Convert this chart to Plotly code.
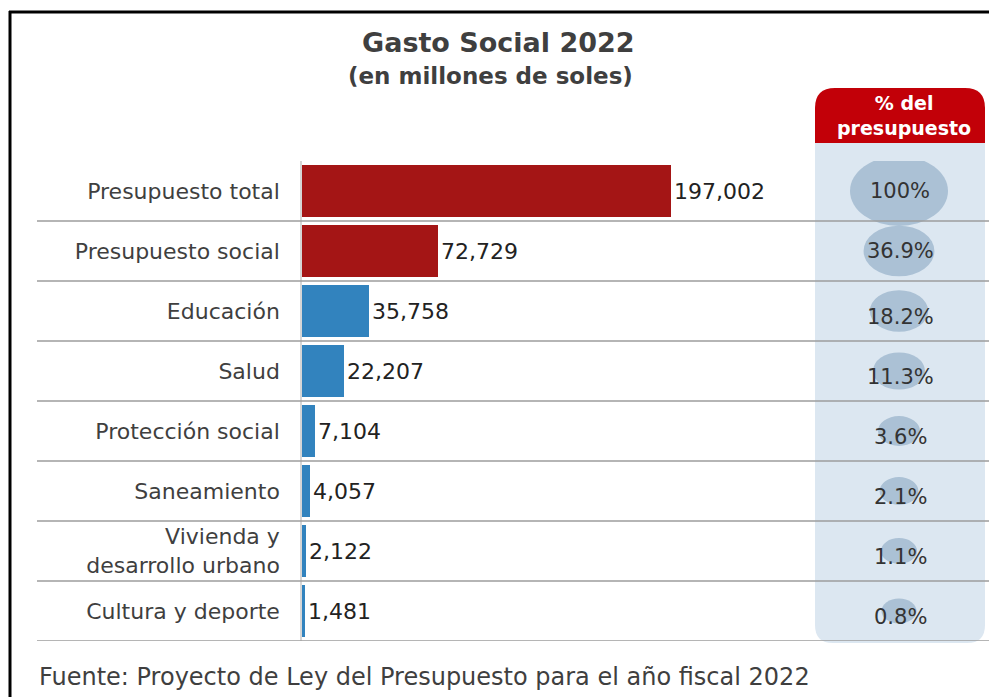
import plotly.graph_objects as go

# ---- data -------------------------------------------------------------
categories = [
    "Presupuesto total",
    "Presupuesto social",
    "Educación",
    "Salud",
    "Protección social",
    "Saneamiento",
    "Vivienda y<br>desarrollo urbano",
    "Cultura y deporte",
]
amounts = [197002, 72729, 35758, 22207, 7104, 4057, 2122, 1481]
share_pct = [100, 36.9, 18.2, 11.3, 3.6, 2.1, 1.1, 0.8]
share_labels = ["100%", "36.9%", "18.2%", "11.3%", "3.6%", "2.1%", "1.1%", "0.8%"]
bar_groups = ["total", "total", "sector", "sector", "sector", "sector", "sector", "sector"]

title_text = "Gasto Social 2022"
subtitle_text = "(en millones de soles)"
column_header = "% del<br>presupuesto"
source_text = "Fuente: Proyecto de Ley del Presupuesto para el año fiscal 2022"

# ---- styling ------------------------------------------------------------
W, H = 989, 697
RED_BAR = "#a41515"
BLUE_BAR = "#3283be"
HEADER_RED = "#c20008"
PANEL_BLUE = "#dce7f1"
BUBBLE = "#abc1d5"
GRID = "#9c9c9c"
TEXT = "#3f3f3f"
LABEL_FONT = "DejaVu Sans"


def px(x):
    return x / W


def py(y):
    return 1 - y / H


def rounded_rect(x0, y0, x1, y1, r_top, r_bot):
    """SVG path (paper coords) for a rectangle given in pixels, with
    separate corner radii for the top and bottom edges."""
    pts = [
        f"M {px(x0 + r_top)} {py(y0)}",
        f"L {px(x1 - r_top)} {py(y0)}",
        f"Q {px(x1)} {py(y0)} {px(x1)} {py(y0 + r_top)}",
        f"L {px(x1)} {py(y1 - r_bot)}",
        f"Q {px(x1)} {py(y1)} {px(x1 - r_bot)} {py(y1)}",
        f"L {px(x0 + r_bot)} {py(y1)}",
        f"Q {px(x0)} {py(y1)} {px(x0)} {py(y1 - r_bot)}",
        f"L {px(x0)} {py(y0 + r_top)}",
        f"Q {px(x0)} {py(y0)} {px(x0 + r_top)} {py(y0)}",
        "Z",
    ]
    return " ".join(pts)


colors = [RED_BAR if g == "total" else BLUE_BAR for g in bar_groups]
y_idx = list(range(len(categories)))

# plot area: rows span 161..641 px, bars start at x=302 px
ROW_TOP, ROW_BOTTOM = 161, 641
BAR_X0 = 302
PX_PER_UNIT = 369 / 197002
X_MAX = 266000
x_domain = [px(BAR_X0), px(BAR_X0 + X_MAX * PX_PER_UNIT)]

fig = go.Figure()

fig.add_trace(
    go.Bar(
        x=amounts,
        y=y_idx,
        orientation="h",
        marker=dict(color=colors, line=dict(width=0)),
        width=0.88,
        text=[f"{v:,}" for v in amounts],
        textposition="outside",
        textfont=dict(family=LABEL_FONT, size=22, color="#222222"),
        constraintext="none",
        cliponaxis=False,
        hoverinfo="skip",
    )
)

shapes = []

# light-blue column behind the percentages and its red header
shapes.append(dict(type="path", xref="paper", yref="paper",
                   path=rounded_rect(815, 143, 985, 643, 0, 18),
                   fillcolor=PANEL_BLUE, line=dict(width=0), layer="below"))
shapes.append(dict(type="path", xref="paper", yref="paper",
                   path=rounded_rect(815, 88, 985, 143, 20, 0),
                   fillcolor=HEADER_RED, line=dict(width=0), layer="below"))

# bubbles sized by share of the total budget
for i, p in enumerate(share_pct):
    h = 20.6 + 4.94 * p ** 0.5
    w = 1.4 * h
    shapes.append(dict(type="circle", xref="paper", yref="y",
                       xsizemode="pixel", ysizemode="pixel",
                       xanchor=px(899), yanchor=i,
                       x0=-w / 2, x1=w / 2, y0=-h / 2, y1=h / 2,
                       fillcolor=BUBBLE, line=dict(width=0), layer="below"))

# row separators
for i in y_idx:
    shapes.append(dict(type="line", xref="paper", yref="y",
                       x0=px(37), x1=1, y0=i + 0.5, y1=i + 0.5,
                       line=dict(color=GRID, width=1.5), layer="above"))

# frame edges (top and left)
shapes.append(dict(type="line", xref="paper", yref="paper",
                   x0=px(9), x1=1, y0=py(12), y1=py(12),
                   line=dict(color="black", width=3)))
shapes.append(dict(type="line", xref="paper", yref="paper",
                   x0=px(10), x1=px(10), y0=py(11), y1=0,
                   line=dict(color="black", width=3)))

annotations = [
    dict(text=f"<b>{title_text}</b>", x=px(498), y=py(43), xref="paper", yref="paper",
         showarrow=False, xanchor="center", yanchor="middle",
         font=dict(family=LABEL_FONT, size=27, color=TEXT)),
    dict(text=f"<b>{subtitle_text}</b>", x=px(490), y=py(76), xref="paper", yref="paper",
         showarrow=False, xanchor="center", yanchor="middle",
         font=dict(family=LABEL_FONT, size=23, color=TEXT)),
    dict(text=f"<b>{column_header}</b>", x=px(904), y=py(115), xref="paper", yref="paper",
         showarrow=False, xanchor="center", yanchor="middle", align="center",
         font=dict(family=LABEL_FONT, size=19, color="white")),
    dict(text=source_text, x=px(37), y=py(677), xref="paper", yref="paper",
         showarrow=False, xanchor="left", yanchor="middle",
         font=dict(family=LABEL_FONT, size=24, color=TEXT)),
]
for i, lab in enumerate(share_labels):
    annotations.append(dict(text=lab, x=px(900), y=i, xref="paper", yref="y",
                            yshift=0 if i < 2 else -6,
                            showarrow=False, xanchor="center", yanchor="middle",
                            font=dict(family=LABEL_FONT, size=21, color="#333333")))

fig.update_layout(
    width=W, height=H,
    margin=dict(l=0, r=0, t=0, b=0),
    paper_bgcolor="white", plot_bgcolor="rgba(0,0,0,0)",
    showlegend=False,
    bargap=0,
    shapes=shapes,
    annotations=annotations,
    xaxis=dict(domain=x_domain, range=[0, X_MAX], visible=False, fixedrange=True),
    yaxis=dict(
        domain=[py(ROW_BOTTOM), py(ROW_TOP)],
        range=[len(categories) - 0.5, -0.5],
        tickmode="array", tickvals=y_idx, ticktext=categories,
        ticks="", ticklabelstandoff=16,
        tickfont=dict(family=LABEL_FONT, size=22, color=TEXT),
        showgrid=False, zeroline=False,
        showline=True, linecolor="#d6d6d6", linewidth=1.5,
        fixedrange=True,
    ),
)

fig.write_html("out.html", config={"displayModeBar": False})
